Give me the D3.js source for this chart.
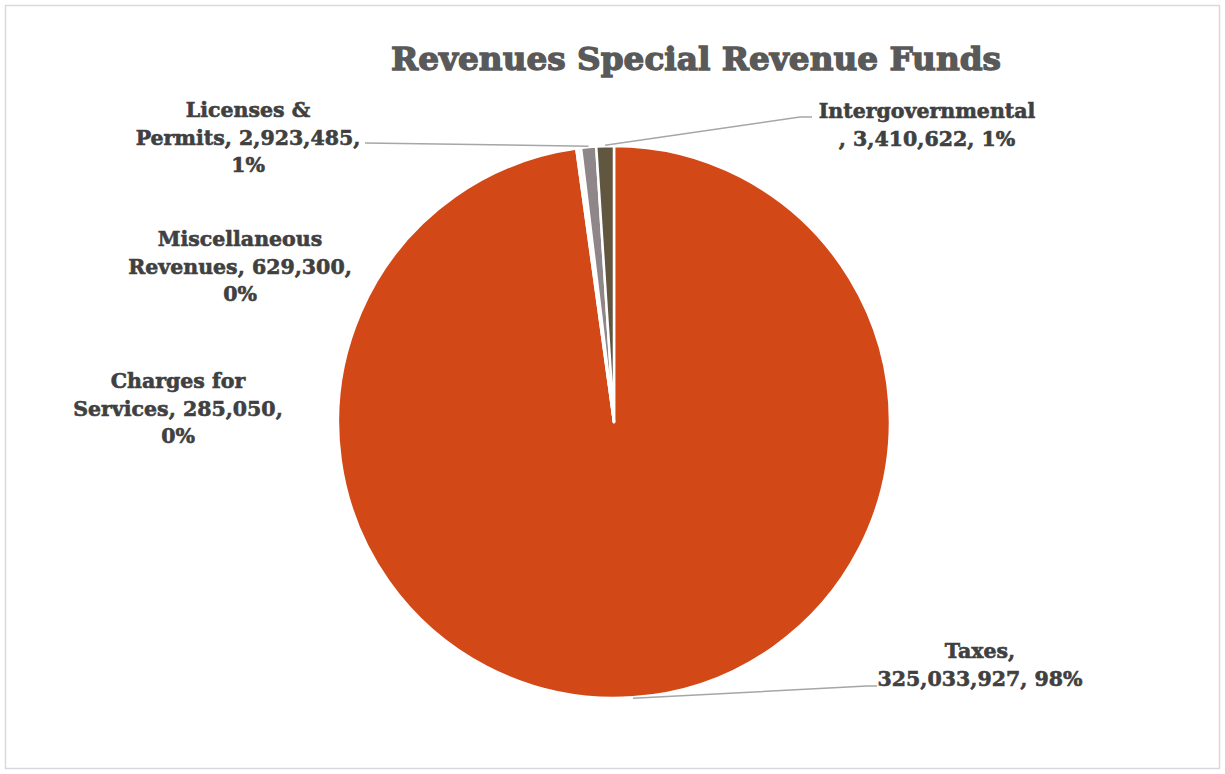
<!DOCTYPE html>
<html>
<head>
<meta charset="utf-8">
<script src="https://cdn.jsdelivr.net/npm/d3@7/dist/d3.min.js"></script>
<style>
  html, body { margin: 0; padding: 0; background: #fff; }
  svg { display: block; }
</style>
</head>
<body>
<svg id="chart" width="1225" height="774"></svg>
<script>
// Revenue sources, in slice order (clockwise from 12 o'clock)
const categories = ["Taxes", "Charges for Services", "Miscellaneous Revenues", "Licenses & Permits", "Intergovernmental"];
const values = [325033927, 285050, 629300, 2923485, 3410622];
const colors = ["#D24817", "#EEEAE4", "#F4F1EC", "#8E8688", "#615640"];

// Label text lines (how each data label wraps)
const labelLines = {
  "Taxes": (v, p) => ["Taxes,", `${v}, ${p}`],
  "Charges for Services": (v, p) => ["Charges for", `Services, ${v},`, p],
  "Miscellaneous Revenues": (v, p) => ["Miscellaneous", `Revenues, ${v},`, p],
  "Licenses & Permits": (v, p) => ["Licenses &", `Permits, ${v},`, p],
  "Intergovernmental": (v, p) => ["Intergovernmental", `, ${v}, ${p}`]
};

// Label placement: block centre x, first baseline y, optional leader line points
const labelLayout = {
  "Taxes": { x: 980, y: 658, leader: [[867, 686], [877, 686]] },
  "Charges for Services": { x: 178, y: 388 },
  "Miscellaneous Revenues": { x: 240, y: 246 },
  "Licenses & Permits": { x: 248, y: 117, leader: [[365, 143]] },
  "Intergovernmental": { x: 927, y: 118, leader: [[800, 117], [812, 117]] }
};

const svg = d3.select("#chart");
const W = 1225, H = 774;
const cx = 614, cy = 422, R = 276;
const fontFamily = "'DejaVu Serif', 'Liberation Serif', serif";

// chart frame
svg.append("rect")
  .attr("x", 5.5).attr("y", 5.5)
  .attr("width", W - 11).attr("height", H - 11)
  .attr("fill", "#fff").attr("stroke", "#D9D9D9").attr("stroke-width", 1.5);

// title
svg.append("text")
  .attr("x", 696).attr("y", 70)
  .attr("text-anchor", "middle")
  .attr("font-family", fontFamily)
  .attr("font-weight", "bold")
  .attr("font-size", 32)
  .attr("fill", "#595959")
  .attr("stroke", "#595959")
  .attr("stroke-width", 1.3)
  .attr("textLength", 610)
  .attr("lengthAdjust", "spacingAndGlyphs")
  .text("Revenues Special Revenue Funds");

const total = d3.sum(values);
const data = categories.map((c, i) => ({ name: c, value: values[i], color: colors[i] }));

const pie = d3.pie().value(d => d.value).sort(null);
const arcs = pie(data);
const arc = d3.arc().innerRadius(0).outerRadius(R);

const g = svg.append("g").attr("transform", `translate(${cx},${cy})`);
g.selectAll("path.slice")
  .data(arcs)
  .join("path")
  .attr("class", "slice")
  .attr("d", arc)
  .attr("fill", d => d.data.color)
  .attr("stroke", "#fff")
  .attr("stroke-width", 2.5)
  .attr("stroke-linejoin", "round");

const fmt = d3.format(",");
const pct = v => Math.round(v / total * 100) + "%";

// leader lines from the outer edge of a slice to its label
const edgeArc = d3.arc().innerRadius(R + 1).outerRadius(R + 1);
arcs.forEach(a => {
  const lay = labelLayout[a.data.name];
  if (!lay.leader) return;
  const [ex, ey] = edgeArc.centroid(a);
  const pts = [[cx + ex, cy + ey]].concat(lay.leader);
  svg.append("path")
    .attr("d", d3.line()(pts))
    .attr("fill", "none")
    .attr("stroke", "#A6A6A6")
    .attr("stroke-width", 1.5);
});

// data labels
arcs.forEach(a => {
  const lay = labelLayout[a.data.name];
  const lines = labelLines[a.data.name](fmt(a.data.value), pct(a.data.value));
  const t = svg.append("text")
    .attr("text-anchor", "middle")
    .attr("font-family", fontFamily)
    .attr("font-weight", "bold")
    .attr("font-size", 20.5)
    .attr("fill", "#404040")
    .attr("stroke", "#404040")
    .attr("stroke-width", 0.6);
  lines.forEach((ln, i) => {
    t.append("tspan")
      .attr("x", lay.x)
      .attr("y", lay.y + i * 27.5)
      .text(ln);
  });
});
</script>
</body>
</html>
